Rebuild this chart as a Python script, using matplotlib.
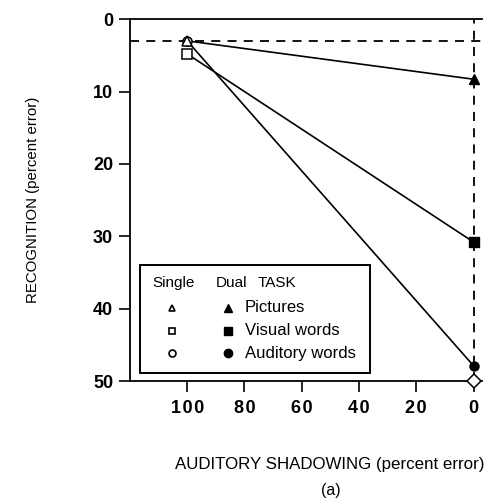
import matplotlib
matplotlib.use("Agg")
import matplotlib.pyplot as plt
from matplotlib.patches import Rectangle

plt.rcParams['font.family'] = ['Liberation Sans', 'DejaVu Sans']

# auditory shadowing error: single task vs dual task
shadow_x = [100, 0]
tasks = ["Pictures", "Visual words", "Auditory words"]
markers = ["^", "s", "o"]
single_err = [3.0, 4.8, 3.0]
dual_err = [8.3, 30.8, 47.9]

# single-task baselines (dashed guides)
shadow_single_recog = 3.0
shadow_single_shadow = 0
shadow_only = (0, 50)

xticks = [100, 80, 60, 40, 20, 0]
yticks = [0, 10, 20, 30, 40, 50]

fig = plt.figure(figsize=(4.9, 5.04), dpi=100)
ax = fig.add_axes([0.265, 0.244, 0.719, 0.718])

ax.axhline(shadow_single_recog, color="black", lw=1.3, ls=(0, (5, 4)), zorder=1)
ax.axvline(shadow_single_shadow, color="black", lw=1.3, ls=(0, (5, 4)), zorder=1)

# lines first, then open/closed markers; triangle ends up on top
for m, s, d in zip(markers, single_err, dual_err):
    ax.plot(shadow_x, [s, d], color="black", lw=1.2, zorder=2)
for i, (m, s, d) in reversed(list(enumerate(zip(markers, single_err, dual_err)))):
    ax.plot(shadow_x[0], s, marker=m, ms=6.5, mfc="white", mec="black",
            mew=1.1, ls="none", zorder=3 + (2 - i))
    ax.plot(shadow_x[1], d, marker=m, ms=6.5, color="black", ls="none", zorder=3)

ax.plot(*shadow_only, marker="D", ms=7, mfc="white", mec="black", mew=1.1,
        ls="none", clip_on=False, zorder=6)

ax.set_xlim(120, -3)
ax.set_ylim(50, 0)
ax.set_xticks(xticks)
ax.set_yticks(yticks)
ax.set_xticklabels(["\u200a".join(str(v)) for v in xticks],
                   fontweight="bold", fontsize=13)
ax.set_yticklabels([str(v) for v in yticks], fontweight="bold", fontsize=13)
ax.tick_params(direction="out", length=8, width=1.2)
ax.tick_params(axis="y", pad=4)
ax.tick_params(axis="x", pad=6)
ax.spines["right"].set_visible(False)
for side in ("left", "bottom", "top"):
    ax.spines[side].set_linewidth(1.3)

ax.set_ylabel("RECOGNITION (percent error)", fontsize=10.8)
ax.yaxis.set_label_coords(-0.255, 0.5)
ax.set_xlabel("AUDITORY SHADOWING (percent error)", fontsize=12.2)
ax.xaxis.set_label_coords(0.567, -0.21)
fig.text(0.675, 0.018, "(a)", ha="center", fontsize=11.5)

# hand-built legend box
ax.add_patch(Rectangle((0.028, 0.022), 0.654, 0.298, transform=ax.transAxes,
                       fill=False, lw=1.4, zorder=5))
ax.text(0.063, 0.271, "Single", transform=ax.transAxes, va="center", fontsize=11)
ax.text(0.245, 0.271, "Dual", transform=ax.transAxes, va="center", fontsize=11)
ax.text(0.362, 0.271, "TASK", transform=ax.transAxes, va="center", fontsize=11)
for i, (m, name) in enumerate(zip(markers, tasks)):
    yy = 0.202 - i * 0.0625
    ax.plot(0.119, yy, marker=m, ms=5, mfc="white", mec="black", mew=1.2,
            transform=ax.transAxes, ls="none", zorder=6)
    ax.plot(0.278, yy, marker=m, ms=6, color="black",
            transform=ax.transAxes, ls="none", zorder=6)
    ax.text(0.327, yy, name, transform=ax.transAxes, va="center", fontsize=12)

fig.savefig("out.png", dpi=100)
